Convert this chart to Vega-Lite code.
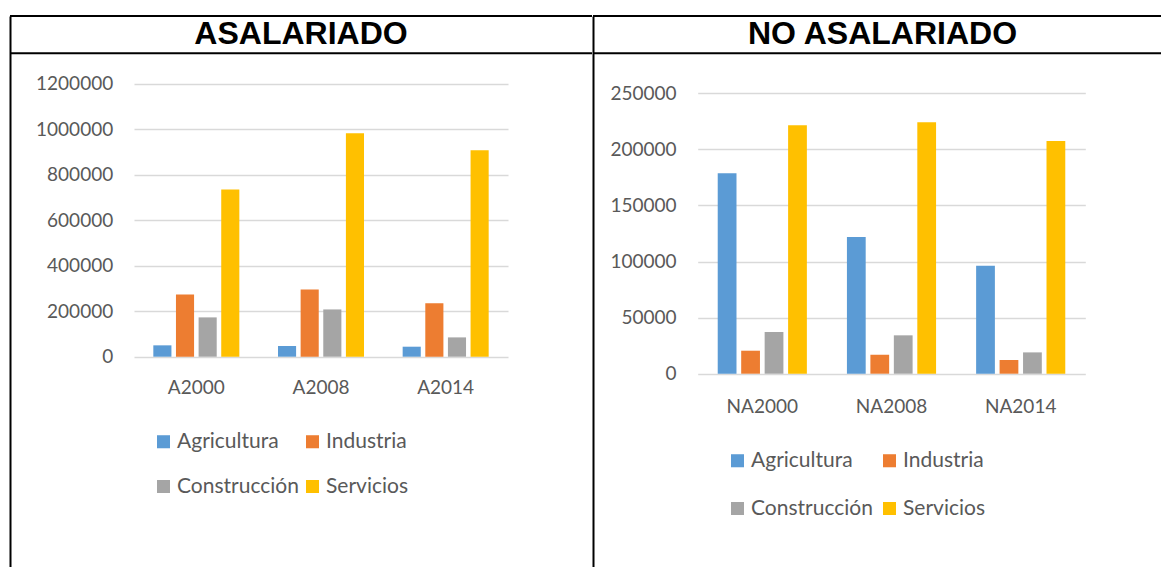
{
  "$schema": "https://vega.github.io/schema/vega-lite/v6.json",
  "background": "white",
  "padding": {"left": 9, "top": 15, "right": 0, "bottom": 0},
  "spacing": -2,
  "config": {"view": {"stroke": null}, "axis": {"minExtent": 0}, "font": "Lato"},
  "resolve": {"scale": {"x": "independent", "y": "independent", "xOffset": "independent", "color": "shared"}, "legend": {"color": "independent"}},
  "hconcat": [
    {
      "width": 582,
      "height": 551,
      "layer": [
        {
          "data": {"values": [
            {"year": "A2000", "sector": "Agricultura", "value": 50000},
            {"year": "A2000", "sector": "Industria", "value": 274000},
            {"year": "A2000", "sector": "Construcción", "value": 173000},
            {"year": "A2000", "sector": "Servicios", "value": 736000},
            {"year": "A2008", "sector": "Agricultura", "value": 47000},
            {"year": "A2008", "sector": "Industria", "value": 296000},
            {"year": "A2008", "sector": "Construcción", "value": 208000},
            {"year": "A2008", "sector": "Servicios", "value": 983000},
            {"year": "A2014", "sector": "Agricultura", "value": 44000},
            {"year": "A2014", "sector": "Industria", "value": 235000},
            {"year": "A2014", "sector": "Construcción", "value": 85000},
            {"year": "A2014", "sector": "Servicios", "value": 909000}
          ]},
          "mark": {"type": "bar"},
          "encoding": {
            "x": {"field": "year", "type": "nominal", "sort": ["A2000", "A2008", "A2014"],
              "scale": {"range": [124, 498], "paddingInner": 0.31, "paddingOuter": 0.155},
              "axis": {"title": null, "domain": false, "ticks": false, "tickSize": 0, "offset": -210.3, "labelPadding": 22, "labelFont": "Lato", "labelFontSize": 19, "labelColor": "#595959", "labelAngle": 0, "grid": false}},
            "xOffset": {"field": "sector", "type": "nominal", "sort": ["Agricultura", "Industria", "Construcción", "Servicios"], "scale": {"paddingInner": 0.2, "paddingOuter": 0}},
            "y": {"field": "value", "type": "quantitative",
              "scale": {"domain": [-925404, 1499227], "nice": false, "zero": false},
              "axis": {"title": null, "values": [0, 200000, 400000, 600000, 800000, 1000000, 1200000], "format": "d", "domain": true, "domainColor": "black", "domainWidth": 2, "ticks": false, "tickSize": 0, "labelPadding": -102.7, "labelFont": "Lato", "labelFontSize": 19, "labelColor": "#595959", "labelOverlap": false, "grid": true, "gridColor": "#d9d9d9", "gridWidth": 1.5}},
            "color": {"field": "sector", "type": "nominal", "sort": ["Agricultura", "Industria", "Construcción", "Servicios"],
              "scale": {"domain": ["Agricultura", "Industria", "Construcción", "Servicios"], "range": ["#5B9BD5", "#ED7D31", "#A5A5A5", "#FFC000"]},
              "legend": {"orient": "none", "direction": "horizontal", "legendX": 143, "legendY": 415, "columns": 2, "title": null, "symbolType": "square", "symbolSize": 170, "symbolStrokeWidth": 0, "labelFont": "Lato", "labelFontSize": 21, "labelColor": "#595959", "labelOffset": 3, "columnPadding": 3, "rowPadding": 23, "padding": 0}}
          }
        },
        {
          "data": {"values": [{"k": 1}]},
          "mark": {"type": "rule", "color": "black", "strokeWidth": 2},
          "encoding": {"y": {"datum": 1499227, "type": "quantitative"}}
        },
        {
          "data": {"values": [{"k": 1}]},
          "mark": {"type": "rule", "color": "black", "strokeWidth": 2},
          "encoding": {"y": {"datum": 1335092, "type": "quantitative"}}
        },
        {
          "data": {"values": [{"title": "ASALARIADO"}]},
          "mark": {"type": "text", "font": "Liberation Sans", "fontWeight": "bold", "fontSize": 32, "baseline": "alphabetic", "align": "center", "color": "black"},
          "encoding": {"y": {"datum": 1374696, "type": "quantitative"}, "text": {"field": "title", "type": "nominal"}}
        }
      ]
    },
    {
      "width": 568,
      "height": 551,
      "layer": [
        {
          "data": {"values": [
            {"year": "NA2000", "sector": "Agricultura", "value": 178700},
            {"year": "NA2000", "sector": "Industria", "value": 20500},
            {"year": "NA2000", "sector": "Construcción", "value": 37200},
            {"year": "NA2000", "sector": "Servicios", "value": 221500},
            {"year": "NA2008", "sector": "Agricultura", "value": 121900},
            {"year": "NA2008", "sector": "Industria", "value": 16900},
            {"year": "NA2008", "sector": "Construcción", "value": 34200},
            {"year": "NA2008", "sector": "Servicios", "value": 224100},
            {"year": "NA2014", "sector": "Agricultura", "value": 96300},
            {"year": "NA2014", "sector": "Industria", "value": 12200},
            {"year": "NA2014", "sector": "Construcción", "value": 19000},
            {"year": "NA2014", "sector": "Servicios", "value": 207500}
          ]},
          "mark": {"type": "bar"},
          "encoding": {
            "x": {"field": "year", "type": "nominal", "sort": ["NA2000", "NA2008", "NA2014"],
              "scale": {"range": [104.7, 492.3], "paddingInner": 0.31, "paddingOuter": 0.155},
              "axis": {"title": null, "domain": false, "ticks": false, "tickSize": 0, "offset": -193.3, "labelPadding": 24, "labelFont": "Lato", "labelFontSize": 19, "labelColor": "#595959", "labelAngle": 0, "grid": false}},
            "xOffset": {"field": "sector", "type": "nominal", "sort": ["Agricultura", "Industria", "Construcción", "Servicios"], "scale": {"paddingInner": 0.2, "paddingOuter": 0}},
            "y": {"field": "value", "type": "quantitative",
              "scale": {"domain": [-172346, 318921], "nice": false, "zero": false},
              "axis": {"title": null, "values": [0, 50000, 100000, 150000, 200000, 250000], "format": "d", "domain": true, "domainColor": "black", "domainWidth": 2, "ticks": false, "tickSize": 0, "labelPadding": -83, "labelFont": "Lato", "labelFontSize": 19, "labelColor": "#595959", "labelOverlap": false, "grid": true, "gridColor": "#d9d9d9", "gridWidth": 1.5}},
            "color": {"field": "sector", "type": "nominal", "sort": ["Agricultura", "Industria", "Construcción", "Servicios"],
              "scale": {"domain": ["Agricultura", "Industria", "Construcción", "Servicios"], "range": ["#5B9BD5", "#ED7D31", "#A5A5A5", "#FFC000"]},
              "legend": {"orient": "none", "direction": "horizontal", "legendX": 134, "legendY": 434, "columns": 2, "title": null, "symbolType": "square", "symbolSize": 170, "symbolStrokeWidth": 0, "labelFont": "Lato", "labelFontSize": 21, "labelColor": "#595959", "labelOffset": 3, "columnPadding": 6, "rowPadding": 26, "padding": 0}}
          }
        },
        {
          "data": {"values": [{"k": 1}]},
          "mark": {"type": "rule", "color": "black", "strokeWidth": 2},
          "encoding": {"y": {"datum": 318921, "type": "quantitative"}}
        },
        {
          "data": {"values": [{"k": 1}]},
          "mark": {"type": "rule", "color": "black", "strokeWidth": 2},
          "encoding": {"y": {"datum": 285664, "type": "quantitative"}}
        },
        {
          "data": {"values": [{"title": "NO ASALARIADO"}]},
          "mark": {"type": "text", "font": "Liberation Sans", "fontWeight": "bold", "fontSize": 32, "baseline": "alphabetic", "align": "center", "color": "black", "dx": 5.5},
          "encoding": {"y": {"datum": 293689, "type": "quantitative"}, "text": {"field": "title", "type": "nominal"}}
        }
      ]
    }
  ]
}
